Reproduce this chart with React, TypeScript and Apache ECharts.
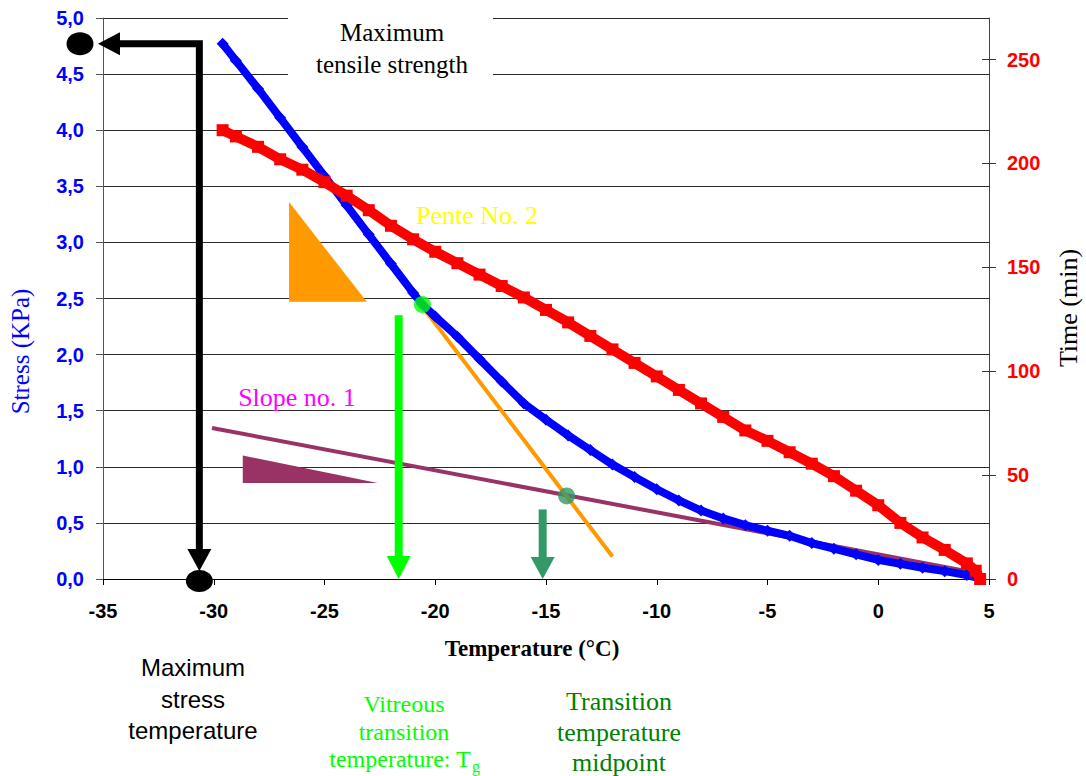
import React, { useEffect, useRef } from "react";
import * as echarts from "echarts";

// ---- data ----
const stressTemp = [-29.6, -29, -28, -27, -26, -25, -24, -23, -22, -21, -20.6, -20, -19, -18, -17, -16, -15, -14, -13, -12, -11, -10, -9, -8, -7, -6, -5, -4, -3, -2, -1, 0, 1, 2, 3, 4, 4.6];
const stressValue = [4.77, 4.62, 4.37, 4.11, 3.85, 3.59, 3.33, 3.07, 2.81, 2.55, 2.45, 2.34, 2.16, 1.96, 1.76, 1.565, 1.42, 1.28, 1.15, 1.02, 0.91, 0.8, 0.7, 0.61, 0.54, 0.48, 0.43, 0.385, 0.32, 0.27, 0.22, 0.17, 0.135, 0.1, 0.07, 0.035, 0.005];

const timeTemp = [-29.6, -29, -28, -27, -26, -25, -24, -23, -22, -21, -20, -19, -18, -17, -16, -15, -14, -13, -12, -11, -10, -9, -8, -7, -6, -5, -4, -3, -2, -1, 0, 1, 2, 3, 4, 4.4, 4.6];
const timeValue = [216, 213, 208, 202, 197, 191, 184.5, 177.5, 170, 163.5, 157.5, 152, 146.5, 141, 135.5, 129.5, 123.5, 117, 110.5, 104, 97.5, 91, 84.5, 78, 71.5, 66.5, 61, 55.5, 49.5, 42.5, 35.5, 27, 20, 14, 7.5, 4, 0];

const slope1Temp = [-30.08, 4.55];
const slope1Stress = [1.346, 0.05];
const slope2Temp = [-29.6, -12.0];
const slope2Stress = [4.77, 0.2];

const tgPoint = [-20.58, 2.446];
const midPoint = [-14.07, 0.74];

const xTickValues = [-35, -30, -25, -20, -15, -10, -5, 0, 5];
const timeTickValues = [0, 50, 100, 150, 200, 250];

// annotation anchors (data units)
const maxStressTemp = -30.65;
const maxStressLevel = 4.77;
const tgArrowTemp = -21.65;
const tgArrowTop = 2.35;
const midArrowTemp = -15.15;
const midArrowTop = 0.62;
const orangeTriangle = [[-26.6, 3.36], [-26.6, 2.47], [-23.09, 2.47]];
const purpleTriangle = [[-28.69, 1.1], [-28.69, 0.855], [-22.6, 0.855]];

const SERIF = "'Liberation Serif', 'Times New Roman', serif";
const SANS = "'Liberation Sans', Arial, sans-serif";

export default function App() {
  const ref = useRef<HTMLDivElement>(null);

  useEffect(() => {
    const chart = echarts.init(ref.current!, null, { renderer: "svg" });
    const labelFont = { fontFamily: SANS, fontWeight: "bold" as const, fontSize: 20 };

    chart.setOption({
      animation: false,
      grid: { left: 103, right: 97, top: 18, bottom: 197, containLabel: false },
      xAxis: {
        type: "value",
        min: -35,
        max: 5,
        interval: 5,
        axisLine: { show: true, onZero: false, lineStyle: { color: "#000", width: 1 } },
        axisTick: { show: true, inside: false, length: 6, lineStyle: { color: "#000" }, customValues: xTickValues },
        axisLabel: { ...labelFont, color: "#000", margin: 22, customValues: xTickValues },
        splitLine: { show: false },
      },
      yAxis: [
        {
          type: "value",
          position: "left",
          min: 0,
          max: 5,
          interval: 0.5,
          axisLine: { show: true, onZero: false, lineStyle: { color: "#555", width: 1 } },
          axisTick: { show: true, inside: false, length: 7, lineStyle: { color: "#555" } },
          axisLabel: {
            ...labelFont,
            color: "#0000ff",
            margin: 19,
            formatter: (v: number) => v.toFixed(1).replace(".", ","),
          },
          splitLine: { show: true, lineStyle: { color: "#2a2a2a", width: 1 } },
        },
        {
          type: "value",
          position: "right",
          min: 0,
          max: 270,
          interval: 50,
          axisLine: { show: true, onZero: false, lineStyle: { color: "#444", width: 1 } },
          axisTick: { show: true, inside: false, length: 7, lineStyle: { color: "#333" }, customValues: timeTickValues },
          axisLabel: { ...labelFont, color: "#ff0000", margin: 18, customValues: timeTickValues },
          splitLine: { show: false },
        },
        {
          type: "value",
          position: "right",
          min: 0,
          max: 270,
          interval: 50,
          axisLine: { show: false, onZero: false },
          axisTick: { show: true, inside: true, length: 7, lineStyle: { color: "#333" }, customValues: timeTickValues },
          axisLabel: { show: false },
          splitLine: { show: false },
        },
      ],
      series: [
        {
          name: "Slope no. 1",
          type: "line",
          data: slope1Temp.map((t, i) => [t, slope1Stress[i]]),
          symbol: "none",
          lineStyle: { color: "#993366", width: 4 },
          z: 2,
        },
        {
          name: "Pente No. 2",
          type: "line",
          data: slope2Temp.map((t, i) => [t, slope2Stress[i]]),
          symbol: "none",
          lineStyle: { color: "#ff9900", width: 4 },
          z: 3,
        },
        {
          name: "Stress",
          type: "line",
          data: stressTemp.map((t, i) => [t, stressValue[i]]),
          symbol: "diamond",
          symbolSize: 12,
          itemStyle: { color: "#0000ff" },
          lineStyle: { color: "#0000ff", width: 8 },
          z: 4,
        },
        {
          name: "Time",
          type: "line",
          yAxisIndex: 1,
          data: timeTemp.map((t, i) => [t, timeValue[i]]),
          symbol: "rect",
          symbolSize: 12,
          itemStyle: { color: "#ff0000" },
          lineStyle: { color: "#ff0000", width: 10 },
          z: 5,
        },
        {
          name: "Tg",
          type: "scatter",
          data: [tgPoint],
          symbolSize: 17,
          itemStyle: { color: "#00ff00" },
          z: 6,
        },
        {
          name: "Midpoint",
          type: "scatter",
          data: [midPoint],
          symbolSize: 17,
          itemStyle: { color: "#339966" },
          z: 6,
        },
      ],
    });

    const px = (x: number, y: number) => chart.convertToPixel({ seriesIndex: 0 }, [x, y]) as number[];
    const origin = px(-35, 0);
    const gridLeft = origin[0];
    const baseY = origin[1];

    const downArrow = (x: number, yTop: number, yTip: number, lineW: number, headW: number, headH: number, color: string) => [
      {
        type: "line",
        z: 10,
        silent: true,
        shape: { x1: x, y1: yTop, x2: x, y2: yTip - headH + 1 },
        style: { stroke: color, lineWidth: lineW },
      },
      {
        type: "polygon",
        z: 10,
        silent: true,
        shape: { points: [[x - headW / 2, yTip - headH], [x + headW / 2, yTip - headH], [x, yTip]] },
        style: { fill: color },
      },
    ];

    const text = (t: string, x: number, y: number, font: string, fill: string, extra: any = {}) => ({
      type: "text",
      z: 11,
      silent: true,
      x,
      y,
      ...extra,
      style: { text: t, font, fill, align: "center", verticalAlign: "middle", textAlign: "center", textVerticalAlign: "middle" },
    });

    const corner = px(maxStressTemp, maxStressLevel);
    const msBottom = px(maxStressTemp, 0);
    const tgTop = px(tgArrowTemp, tgArrowTop);
    const tgBottom = px(tgArrowTemp, 0);
    const midTop = px(midArrowTemp, midArrowTop);
    const midBottom = px(midArrowTemp, 0);

    const graphic: any[] = [
      // white box behind "Maximum tensile strength"
      { type: "rect", z: 1, silent: true, shape: { x: 288, y: 0, width: 205, height: 84 }, style: { fill: "#fff" } },
      // black path arrows
      {
        type: "polyline",
        z: 10,
        silent: true,
        shape: { points: [[corner[0], baseY - 30], [corner[0], corner[1]], [gridLeft + 17, corner[1]]] },
        style: { stroke: "#000", lineWidth: 7, lineJoin: "miter", fill: null },
      },
      {
        type: "polygon",
        z: 10,
        silent: true,
        shape: { points: [[corner[0] - 12, baseY - 30], [corner[0] + 12, baseY - 30], [corner[0], baseY - 8]] },
        style: { fill: "#000" },
      },
      {
        type: "polygon",
        z: 10,
        silent: true,
        shape: { points: [[gridLeft + 17, corner[1] - 11.5], [gridLeft + 17, corner[1] + 11.5], [gridLeft - 5, corner[1]]] },
        style: { fill: "#000" },
      },
      { type: "ellipse", z: 10, silent: true, shape: { cx: gridLeft - 23, cy: corner[1], rx: 13.5, ry: 11.5 }, style: { fill: "#000" } },
      { type: "ellipse", z: 10, silent: true, shape: { cx: msBottom[0], cy: msBottom[1] + 2, rx: 13.5, ry: 11 }, style: { fill: "#000" } },
      ...downArrow(tgTop[0], tgTop[1], tgBottom[1], 8, 24, 23, "#00ff00"),
      ...downArrow(midTop[0], midTop[1], midBottom[1], 8, 24, 22, "#339966"),
      {
        type: "polygon",
        z: 10,
        silent: true,
        shape: { points: orangeTriangle.map((p) => px(p[0], p[1])) },
        style: { fill: "#ff9900" },
      },
      {
        type: "polygon",
        z: 10,
        silent: true,
        shape: { points: purpleTriangle.map((p) => px(p[0], p[1])) },
        style: { fill: "#993366" },
      },
      // texts
      text("Maximum", 392, 32.5, `25px ${SERIF}`, "#000"),
      text("tensile strength", 392, 64.5, `25px ${SERIF}`, "#000"),
      text("Pente No. 2", 477, 215.5, `26px ${SERIF}`, "#ffff00"),
      text("Slope no. 1", 297, 397.5, `26px ${SERIF}`, "#ff00ff"),
      text("Stress (KPa)", 20, 351.5, `25px ${SERIF}`, "#0000ff", { rotation: Math.PI / 2 }),
      text("Time (min)", 1068, 308, `26px ${SERIF}`, "#000", { rotation: Math.PI / 2 }),
      text("Temperature (°C)", 532, 648, `bold 23px ${SERIF}`, "#000"),
      text("Maximum", 193, 667, `24px ${SANS}`, "#000"),
      text("stress", 193, 699, `24px ${SANS}`, "#000"),
      text("temperature", 193, 730, `24px ${SANS}`, "#000"),
      text("Vitreous", 404, 704, `24px ${SERIF}`, "#00ff00"),
      text("transition", 404, 732, `24px ${SERIF}`, "#00ff00"),
      text("temperature: T", 400, 759, `24px ${SERIF}`, "#00ff00"),
      {
        type: "text",
        z: 11,
        silent: true,
        x: 472,
        y: 766,
        style: { text: "g", font: `16px ${SERIF}`, fill: "#00ff00", align: "left", verticalAlign: "middle", textAlign: "left", textVerticalAlign: "middle" },
      },
      text("Transition", 619, 701.5, `26px ${SERIF}`, "#008000"),
      text("temperature", 619, 732, `26px ${SERIF}`, "#008000"),
      text("midpoint", 619, 762, `26px ${SERIF}`, "#008000"),
    ];

    chart.setOption({ graphic });

    return () => chart.dispose();
  }, []);

  return <div ref={ref} style={{ position: "absolute", left: 0, top: 0, width: 1086, height: 776 }} />;
}
